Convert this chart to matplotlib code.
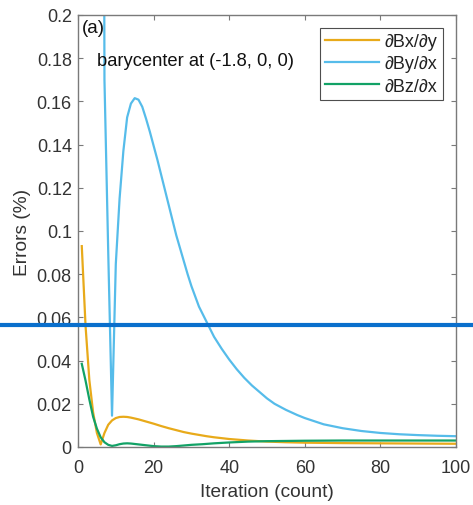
import matplotlib
matplotlib.use("Agg")
import matplotlib.pyplot as plt
from matplotlib.lines import Line2D

plt.rcParams['font.family'] = ['Liberation Sans', 'DejaVu Sans']

# ---- data ----
bx_x = [1, 2, 3, 4, 5, 6, 7, 8, 9, 10, 11, 12, 13, 14, 15, 16, 17, 18, 19, 20,
        22, 24, 26, 28, 30, 32, 34, 36, 38, 40, 45, 50, 55, 60, 70, 80, 90, 100]
bx_y = [0.093, 0.056, 0.031, 0.016, 0.0065, 0.0012, 0.0065, 0.0103, 0.0123, 0.0134,
        0.0139, 0.014, 0.0139, 0.0136, 0.0132, 0.0128, 0.0123, 0.0118, 0.0113, 0.0108,
        0.0097, 0.0087, 0.0078, 0.0069, 0.0062, 0.0056, 0.005, 0.0045, 0.0041, 0.0037,
        0.003, 0.0025, 0.0022, 0.002, 0.0018, 0.0017, 0.0016, 0.0015]

by_x = [1, 2, 3, 4, 5, 6, 7, 8, 9, 10, 11, 12, 13, 14, 15, 16, 17, 18, 19, 20,
        21, 22, 23, 24, 25, 26, 27, 28, 29, 30, 32, 34, 36, 38, 40, 42, 44, 46, 48,
        50, 52, 55, 58, 60, 65, 70, 75, 80, 85, 90, 95, 100]
by_y = [2.5, 2.2, 1.9, 1.6, 1.25, 0.9, 0.17, 0.09, 0.0145, 0.0847, 0.115, 0.137,
        0.1526, 0.159, 0.1615, 0.1608, 0.1575, 0.152, 0.146, 0.1395, 0.133, 0.126,
        0.119, 0.112, 0.105, 0.098, 0.092, 0.086, 0.08, 0.0745, 0.065, 0.058, 0.051,
        0.0455, 0.0405, 0.036, 0.032, 0.0285, 0.0255, 0.0225, 0.02, 0.0172, 0.0148,
        0.0134, 0.0105, 0.0087, 0.0074, 0.0065, 0.0059, 0.0055, 0.0052, 0.005]

bz_x = [1, 2, 3, 4, 5, 6, 7, 8, 9, 10, 11, 12, 13, 14, 15, 16, 18, 20, 22, 24, 26,
        28, 30, 33, 36, 40, 45, 50, 60, 70, 80, 90, 100]
bz_y = [0.0385, 0.0307, 0.022, 0.014, 0.0085, 0.0045, 0.0022, 0.001, 0.0005, 0.0008,
        0.0013, 0.0016, 0.0017, 0.0016, 0.0014, 0.0012, 0.0008, 0.0004, 0.0002, 0.0002,
        0.0004, 0.0007, 0.001, 0.0013, 0.0017, 0.0021, 0.0025, 0.0027, 0.0029, 0.003,
        0.003, 0.003, 0.003]

labels = ['\u2202Bx/\u2202y', '\u2202By/\u2202x', '\u2202Bz/\u2202x']
colors = ['#E8AA1A', '#56BCEA', '#12A266']

x_ticks = [0, 20, 40, 60, 80, 100]
y_ticks = [0, 0.02, 0.04, 0.06, 0.08, 0.1, 0.12, 0.14, 0.16, 0.18, 0.2]
y_tick_labels = ['0', '0.02', '0.04', '0.06', '0.08', '0.1', '0.12', '0.14', '0.16',
                 '0.18', '0.2']

fig = plt.figure(figsize=(4.73, 5.06), dpi=100)
ax = fig.add_axes([78/473, 58/506, 378/473, 432/506])

for xs, ys, lab, c in zip([bx_x, by_x, bz_x], [bx_y, by_y, bz_y], labels, colors):
    ax.plot(xs, ys, color=c, lw=1.6, label=lab, solid_joinstyle='round')

ax.set_xlim(0, 100)
ax.set_ylim(0, 0.2)
ax.set_xticks(x_ticks)
ax.set_xticklabels([str(t) for t in x_ticks])
ax.set_yticks(y_ticks)
ax.set_yticklabels(y_tick_labels)

spine_c = '#7a7a7a'
for s in ax.spines.values():
    s.set_color(spine_c)
    s.set_linewidth(1.0)
ax.tick_params(direction='in', length=3.6, width=0.8, color=spine_c,
               labelsize=13, labelcolor='#333333',
               top=True, right=True)
ax.tick_params(axis='y', pad=4.5)
ax.tick_params(axis='x', pad=8.5)

ax.set_xlabel('Iteration (count)', fontsize=13.8, color='#333333', labelpad=5)
ax.set_ylabel('Errors (%)', fontsize=13.8, color='#333333', labelpad=4)

ax.text(0.011, 0.9907, '(a)', transform=ax.transAxes, fontsize=13.5, color='#111111',
        ha='left', va='top')
ax.text(0.0503, 0.8958, 'barycenter at (-1.8, 0, 0)', transform=ax.transAxes,
        fontsize=13.2, color='#111111', ha='left', va='center')

leg = ax.legend(loc='upper right', bbox_to_anchor=((443 - 78)/378, 1 - 13/432),
                fontsize=13, frameon=True, fancybox=False, borderaxespad=0,
                handlelength=3.0, handletextpad=0.3, labelspacing=0.28,
                borderpad=0.3)
leg.get_frame().set_edgecolor('#222222')
leg.get_frame().set_linewidth(0.8)
for t in leg.get_texts():
    t.set_color('#222222')

# horizontal blue marker line across the whole figure
fig.add_artist(Line2D([0, 1], [1 - 326/506, 1 - 326/506], transform=fig.transFigure,
                      color='#0A6FCC', lw=3.0, zorder=10))

fig.savefig('out.png', dpi=100)
